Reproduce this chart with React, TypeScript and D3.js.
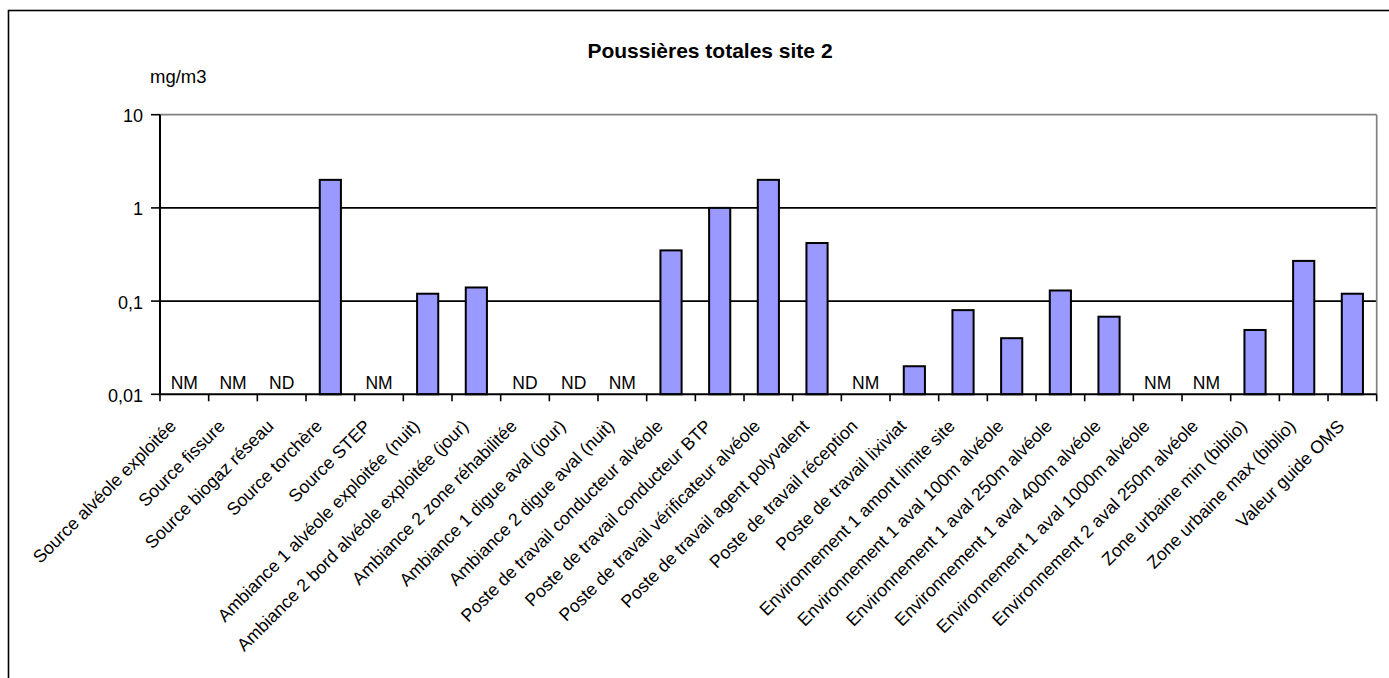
import React from "react";
import * as d3 from "d3";

// Sampling points (x axis categories)
const categories: string[] = [
  "Source alvéole exploitée",
  "Source fissure",
  "Source biogaz réseau",
  "Source torchère",
  "Source STEP",
  "Ambiance 1 alvéole exploitée (nuit)",
  "Ambiance 2 bord alvéole exploitée (jour)",
  "Ambiance 2 zone réhabilitée",
  "Ambiance 1 digue aval (jour)",
  "Ambiance 2 digue aval (nuit)",
  "Poste de travail conducteur alvéole",
  "Poste de travail conducteur BTP",
  "Poste de travail vérificateur alvéole",
  "Poste de travail agent polyvalent",
  "Poste de travail réception",
  "Poste de travail lixiviat",
  "Environnement 1 amont limite site",
  "Environnement 1 aval 100m alvéole",
  "Environnement 1 aval 250m alvéole",
  "Environnement 1 aval 400m alvéole",
  "Environnement 1 aval 1000m alvéole",
  "Environnement 2 aval 250m alvéole",
  "Zone urbaine min (biblio)",
  "Zone urbaine max (biblio)",
  "Valeur guide OMS",
];

// Total dust concentration, mg/m3 (null = no bar)
const values: (number | null)[] = [
  null, null, null, 2.0, null, 0.12, 0.14, null, null, null,
  0.35, 1.0, 2.0, 0.42, null, 0.02, 0.08, 0.04, 0.13, 0.068,
  null, null, 0.049, 0.27, 0.12,
];

// Status notes: NM = non mesuré, ND = non détecté
const notes: string[] = [
  "NM", "NM", "ND", "", "NM", "", "", "ND", "ND", "NM",
  "", "", "", "", "NM", "", "", "", "", "",
  "NM", "NM", "", "", "",
];

const yTicks: number[] = [0.01, 0.1, 1, 10];

const title = "Poussières totales site 2";
const unit = "mg/m3";

const W = 1389;
const H = 678;
const left = 160;
const right = 1376.7;
const top = 114.7;
const bottom = 394.3;

const FONT = "'Liberation Sans', Arial, Helvetica, sans-serif";

const frLocale = d3.formatLocale({
  decimal: ",",
  thousands: " ",
  grouping: [3],
  currency: ["", " €"],
});
const fmt = frLocale.format("~g");

export default function App() {
  const x = d3.scaleBand<string>().domain(categories).range([left, right]).padding(0);
  const y = d3.scaleLog().domain([0.01, 10]).range([bottom, top]);
  const bw = x.bandwidth() / 2.3;
  const boundaries = d3.range(categories.length + 1).map((i) => left + i * x.step());

  return (
    <div style={{ position: "absolute", left: 0, top: 0 }}>
      <svg width={W} height={H} style={{ display: "block", background: "#fff" }} fontFamily={FONT}>
        <rect x={0} y={0} width={W} height={H} fill="#fff" />
        {/* chart frame */}
        <rect x={8.5} y={10.5} width={W + 100} height={H + 100} fill="none" stroke="#000" strokeWidth={1.6} />

        <text x={710} y={58} textAnchor="middle" fontSize={21} fontWeight="bold" fill="#000">
          {title}
        </text>
        <text x={150} y={83} fontSize={18.5} fill="#000">
          {unit}
        </text>

        {/* gridlines */}
        {yTicks.slice(1, 3).map((t) => (
          <line key={t} x1={left} x2={right} y1={y(t)} y2={y(t)} stroke="#000" strokeWidth={1.7} />
        ))}
        {/* plot area border (top / right) */}
        <line x1={left} x2={right} y1={top} y2={top} stroke="#808080" strokeWidth={1.7} />
        <line x1={right} x2={right} y1={top} y2={bottom} stroke="#808080" strokeWidth={1.7} />

        {/* bars */}
        {categories.map((c, i) => {
          const v = values[i];
          if (v == null) return null;
          const cx = (x(c) as number) + x.bandwidth() / 2;
          return (
            <rect
              key={c}
              x={cx - bw / 2}
              y={y(v)}
              width={bw}
              height={bottom - y(v)}
              fill="#9999FF"
              stroke="#000"
              strokeWidth={2}
            />
          );
        })}

        {/* NM / ND notes */}
        {categories.map((c, i) =>
          notes[i] ? (
            <text
              key={"n" + c}
              x={(x(c) as number) + x.bandwidth() / 2}
              y={bottom - 5.5}
              textAnchor="middle"
              fontSize={17.5}
              fill="#000"
            >
              {notes[i]}
            </text>
          ) : null
        )}

        {/* y axis */}
        <line x1={left} x2={left} y1={top} y2={bottom} stroke="#000" strokeWidth={2} />
        {yTicks.map((t) => (
          <g key={"y" + t}>
            <line x1={left - 9} x2={left} y1={y(t)} y2={y(t)} stroke="#000" strokeWidth={1.6} />
            <text x={143} y={y(t) + 7.5} textAnchor="end" fontSize={18} fill="#000">
              {fmt(t)}
            </text>
          </g>
        ))}

        {/* x axis */}
        <line x1={left} x2={right} y1={bottom} y2={bottom} stroke="#000" strokeWidth={2} />
        {boundaries.map((bx, i) => (
          <line key={"xt" + i} x1={bx} x2={bx} y1={bottom} y2={bottom + 7} stroke="#000" strokeWidth={1.6} />
        ))}
        {categories.map((c) => {
          const cx = (x(c) as number) + x.bandwidth() / 2;
          return (
            <text
              key={"xl" + c}
              transform={`translate(${cx - 7},${bottom + 33}) rotate(-45)`}
              textAnchor="end"
              fontSize={17.8}
              fill="#000"
            >
              {c}
            </text>
          );
        })}
      </svg>
    </div>
  );
}
